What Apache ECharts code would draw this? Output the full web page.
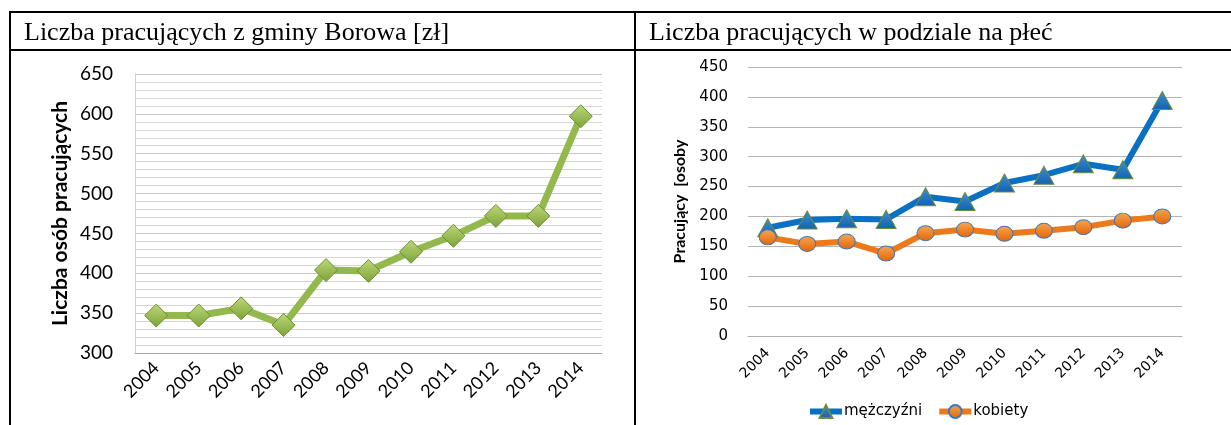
<!DOCTYPE html>
<html>
<head>
<meta charset="utf-8">
<script src="https://cdn.jsdelivr.net/npm/echarts@6/dist/echarts.min.js"></script>
<style>
  html, body { margin: 0; padding: 0; background: #fff; }
  #chart { width: 1231px; height: 425px; }
</style>
</head>
<body>
<div id="chart"></div>
<script>
// lata
const years = ["2004", "2005", "2006", "2007", "2008", "2009", "2010", "2011", "2012", "2013", "2014"];
// liczba pracujących ogółem
const total = [347, 347, 356, 335, 404, 403, 427, 447, 472, 472, 597];
// w podziale na płeć
const men = [181, 194, 196, 195, 233, 225, 256, 269, 288, 278, 394];
const women = [165, 154, 158, 138, 172, 178, 171, 176, 182, 193, 200];

const titles = ["Liczba pracujących z gminy Borowa [zł]", "Liczba pracujących w podziale na płeć"];
const seriesNames = ["mężczyźni", "kobiety"];

const fontL = "Lato";
const fontR = "DejaVu Sans";
const grad = (c1, c2) => new echarts.graphic.LinearGradient(0, 0, 0, 1, [
  { offset: 0, color: c1 },
  { offset: 1, color: c2 }
]);

let myChart = echarts.init(document.getElementById("chart"));
let option = {
  animation: false,
  title: [
    {
      text: titles[0], left: 19, top: 15,
      textStyle: { fontFamily: "Liberation Serif", fontSize: 26, fontWeight: "normal", color: "#000" }
    },
    {
      text: titles[1], left: 644, top: 15,
      textStyle: { fontFamily: "Liberation Serif", fontSize: 26, fontWeight: "normal", color: "#000" }
    }
  ],
  graphic: [
    { type: "line", shape: { x1: 9, y1: 12, x2: 1231, y2: 12 }, style: { stroke: "#000", lineWidth: 2 } },
    { type: "line", shape: { x1: 9, y1: 50, x2: 1231, y2: 50 }, style: { stroke: "#000", lineWidth: 2 } },
    { type: "line", shape: { x1: 10, y1: 11, x2: 10, y2: 425 }, style: { stroke: "#000", lineWidth: 2 } },
    { type: "line", shape: { x1: 635, y1: 11, x2: 635, y2: 425 }, style: { stroke: "#000", lineWidth: 2 } }
  ],
  legend: {
    data: seriesNames,
    left: 802,
    top: 399,
    itemWidth: 32,
    itemHeight: 16,
    itemGap: 14,
    lineStyle: { width: 6 },
    textStyle: { fontFamily: fontR, fontSize: 15, color: "#000", padding: [0, 0, 0, -3] }
  },
  grid: [
    { left: 135, right: 629, top: 74, bottom: 72 },
    { left: 748, right: 49, top: 67, bottom: 89 }
  ],
  xAxis: [
    {
      type: "category", gridIndex: 0, data: years, boundaryGap: true,
      axisLine: { lineStyle: { color: "#a6a6a6" } },
      axisTick: { show: false },
      axisLabel: { rotate: 45, margin: 12, color: "#000", fontFamily: fontL, fontSize: 18 }
    },
    {
      type: "category", gridIndex: 1, data: years, boundaryGap: true,
      axisLine: { lineStyle: { color: "#b0b0b0" } },
      axisTick: { show: false },
      axisLabel: { rotate: 45, margin: 15, color: "#000", fontFamily: fontR, fontSize: 14 }
    }
  ],
  yAxis: [
    {
      type: "value", gridIndex: 0, min: 300, max: 650, interval: 50,
      name: "Liczba osób pracujących", nameLocation: "middle", nameGap: 64,
      nameTextStyle: { fontFamily: fontL, fontSize: 21, fontWeight: "bold", color: "#000" },
      axisLine: { show: true, lineStyle: { color: "#cfcfcf" } },
      axisTick: { show: false },
      axisLabel: { margin: 22, color: "#000", fontFamily: fontL, fontSize: 19 },
      splitLine: { lineStyle: { color: "#c8c8c8" } },
      minorTick: { show: false, splitNumber: 5 },
      minorSplitLine: { show: true, lineStyle: { color: "#d6d6d6" } }
    },
    {
      type: "value", gridIndex: 1, min: 0, max: 450, interval: 50,
      name: "Pracujący  [osoby", nameLocation: "middle", nameGap: 60,
      nameTextStyle: { fontFamily: fontL, fontSize: 16, fontWeight: "bold", color: "#000" },
      axisLine: { show: false },
      axisTick: { show: false },
      axisLabel: { margin: 20, color: "#000", fontFamily: fontR, fontSize: 15 },
      splitLine: { lineStyle: { color: "#b4b4b4" } }
    }
  ],
  series: [
    {
      name: "ogółem", type: "line", xAxisIndex: 0, yAxisIndex: 0, data: total,
      symbol: "diamond", symbolSize: 23,
      lineStyle: { color: "#93b84c", width: 7 },
      itemStyle: { color: grad("#bcd97a", "#7da137"), borderColor: "#6d8f33", borderWidth: 1 }
    },
    {
      name: seriesNames[0], type: "line", xAxisIndex: 1, yAxisIndex: 1, data: men,
      symbol: "triangle", symbolSize: [20, 18],
      lineStyle: { color: "#0a70c2", width: 6 },
      itemStyle: { color: grad("#3d8fd6", "#1262ae"), borderColor: "#6e8c3c", borderWidth: 1 }
    },
    {
      name: seriesNames[1], type: "line", xAxisIndex: 1, yAxisIndex: 1, data: women,
      symbol: "circle", symbolSize: [17, 15],
      lineStyle: { color: "#ec7a1c", width: 6 },
      itemStyle: { color: grad("#f8a650", "#e2650a"), borderColor: "#3f79bd", borderWidth: 1 }
    }
  ]
};
myChart.setOption(option);
</script>
</body>
</html>
